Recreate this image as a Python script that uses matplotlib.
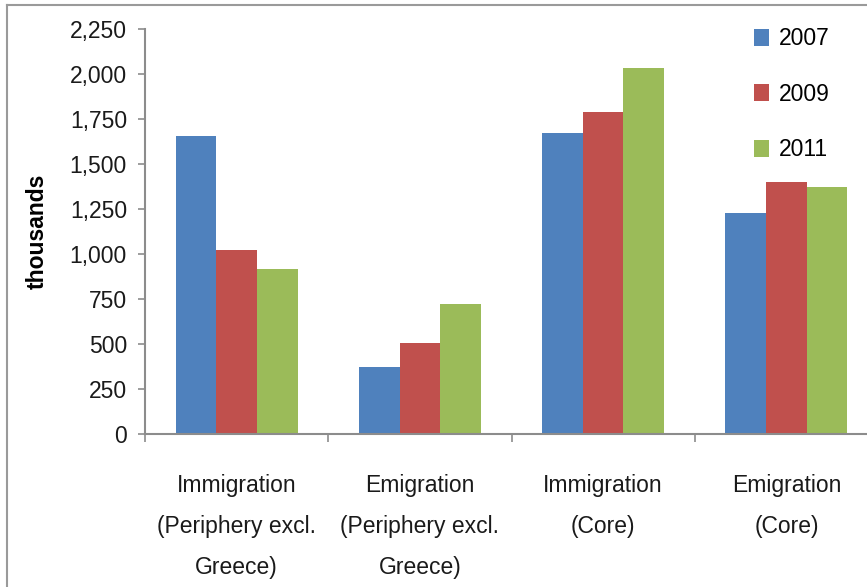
import matplotlib
matplotlib.use("Agg")
import matplotlib.pyplot as plt
import numpy as np
from matplotlib.lines import Line2D

categories = ["Immigration\n(Periphery excl.\nGreece)",
              "Emigration\n(Periphery excl.\nGreece)",
              "Immigration\n(Core)",
              "Emigration\n(Core)"]
years = ["2007", "2009", "2011"]
v2007 = [1655, 370, 1670, 1230]
v2009 = [1020, 504, 1790, 1398]
v2011 = [915, 722, 2033, 1374]
colors = ["#4F81BD", "#C0504D", "#9BBB59"]
yticks = [0, 250, 500, 750, 1000, 1250, 1500, 1750, 2000, 2250]

plt.rcParams['font.family'] = ['Liberation Sans', 'DejaVu Sans']

W, H = 867, 587
fig = plt.figure(figsize=(W / 100, H / 100), dpi=100)
ax = fig.add_axes([145 / W, (H - 434) / H, (878 - 145) / W, (434 - 29) / H])

x = np.arange(len(categories))
bw = 0.667 / 3
for i, (vals, c, lab) in enumerate(zip([v2007, v2009, v2011], colors, years)):
    ax.bar(x + (i - 1) * bw, vals, width=bw, color=c, label=lab, zorder=2)

ax.set_xlim(-0.5, len(categories) - 0.5)
ax.set_ylim(0, 2250)
ax.set_yticks(yticks)
ax.set_yticklabels([f"{v:,}" for v in yticks])
ax.set_xticks(x)
ax.set_xticklabels(categories, linespacing=1.98)
ax.set_xticks(np.arange(-0.5, len(categories), 1.0), minor=True)

gray = "#8C8C8C"
for s in ["top", "right"]:
    ax.spines[s].set_visible(False)
for s in ["left", "bottom"]:
    ax.spines[s].set_color(gray)
    ax.spines[s].set_linewidth(1.5)
ax.tick_params(axis='y', length=5, width=1.2, color=gray, labelsize=16.5, pad=8, labelcolor="#1a1a1a")
ax.tick_params(axis='x', which='major', length=0, labelsize=16.5, pad=29, labelcolor="#1a1a1a")
ax.tick_params(axis='x', which='minor', length=6, width=1.2, color=gray)

ax.set_ylabel("thousands", fontsize=16.5, fontweight='bold', labelpad=15)

leg = ax.legend(loc='upper left', bbox_to_anchor=(745 / W, 1 - 18 / H), bbox_transform=fig.transFigure,
                frameon=False, fontsize=16.5, handlelength=0.65, handleheight=0.75,
                handletextpad=0.45, labelspacing=1.42, borderaxespad=0)

# outer chart frame (left and top)
fig.add_artist(Line2D([7 / W, 7 / W], [0, 1 - 5 / H], transform=fig.transFigure, color="#9a9a9a", lw=1.5))
fig.add_artist(Line2D([7 / W, 1], [1 - 5 / H, 1 - 5 / H], transform=fig.transFigure, color="#9a9a9a", lw=1.5))

fig.savefig("out.png", dpi=100)
